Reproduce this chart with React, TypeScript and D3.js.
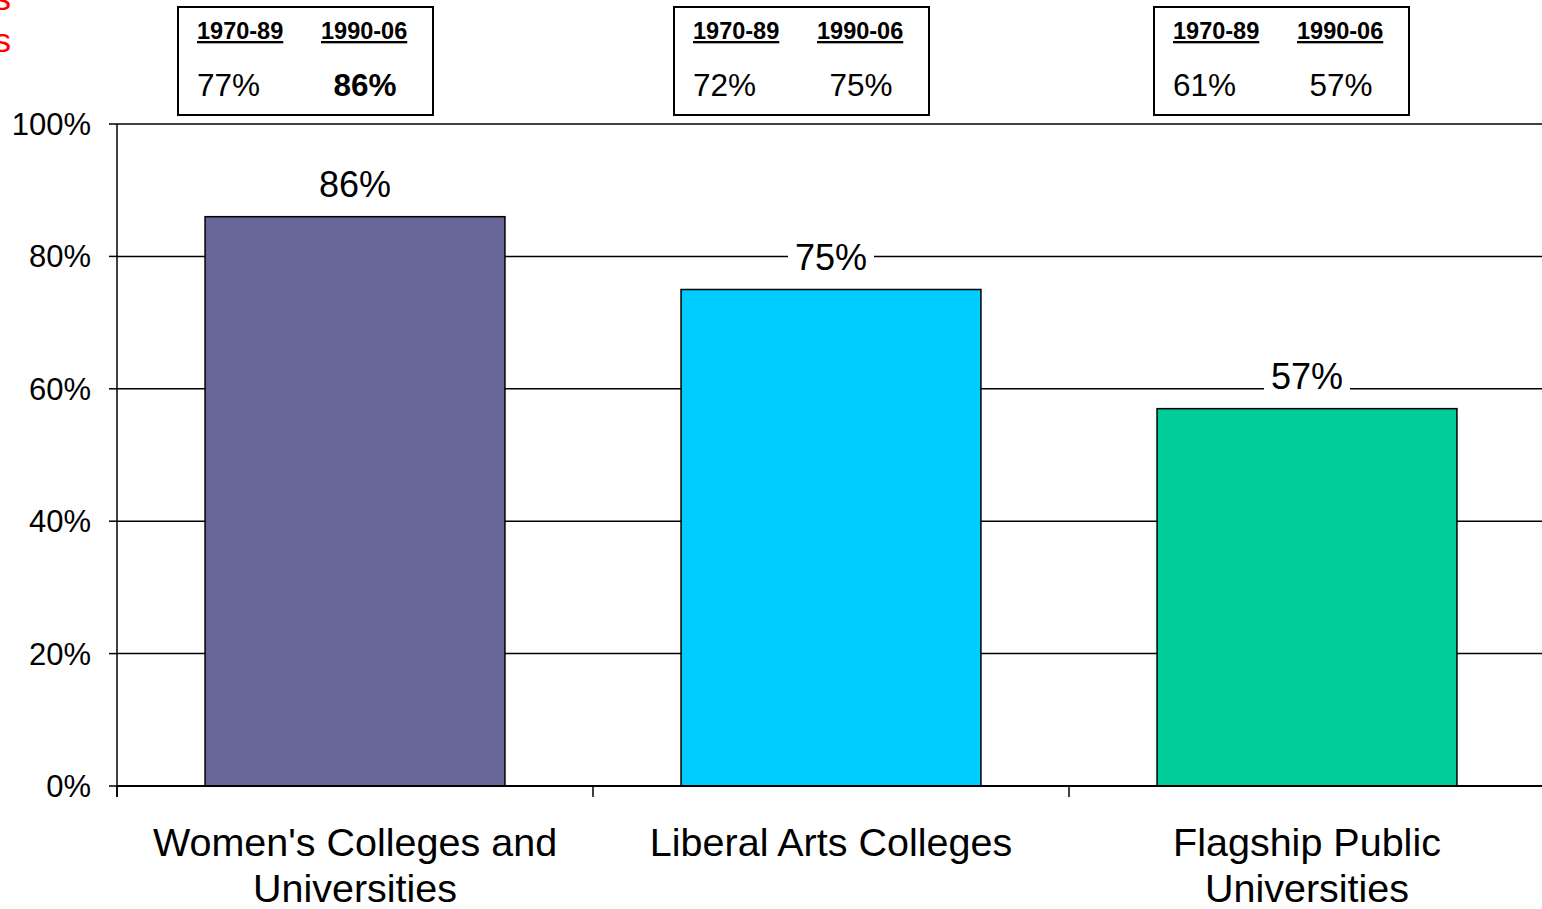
import React from 'react';
import * as d3 from 'd3';

// Chart data
const categories = ['Women\'s Colleges and Universities', 'Liberal Arts Colleges', 'Flagship Public Universities'];
const categoryLines = [['Women\'s Colleges and', 'Universities'], ['Liberal Arts Colleges'], ['Flagship Public', 'Universities']];
const recentRates = [0.86, 0.75, 0.57];
const earlierRates = [0.77, 0.72, 0.61];
const periods = ['1970-89', '1990-06'];
const boldRecent = [true, false, false];
const barColors = ['#666699', '#00CCFF', '#00CC99'];
const yTicks = [0, 0.2, 0.4, 0.6, 0.8, 1.0];
const titleLines = ['Graduation Rates', 'by Institution Types'];

const W = 1542;
const H = 909;
const PLOT = { left: 117, right: 1545, top: 124, bottom: 786 };
const BOX_SHIFT = [-177, -157, -153]; // box left edge relative to band centre
const FONT = '"Liberation Sans", Arial, Helvetica, sans-serif';

export default function App() {
  const x = d3.scaleBand<string>().domain(categories).range([PLOT.left, PLOT.right]).padding(0);
  const y = d3.scaleLinear().domain([0, 1]).range([PLOT.bottom, PLOT.top]);
  const barW = x.bandwidth() * 0.63;
  const pct = d3.format('.0%');

  return (
    <svg
      width={W}
      height={H}
      style={{ position: 'absolute', left: 0, top: 0, background: '#fff' }}
      fontFamily={FONT}
    >
      {/* cut-off red title */}
      {titleLines.map((t, i) => (
        <text key={t} x={11} y={10 + i * 42} textAnchor="end" fill="#FF0000" fontSize={34}>
          {t}
        </text>
      ))}

      {/* gridlines */}
      {yTicks.slice(1).map((t) => (
        <line key={t} x1={PLOT.left} x2={W} y1={y(t)} y2={y(t)} stroke="#000" strokeWidth={1.5} />
      ))}

      {/* y axis */}
      <line x1={PLOT.left} x2={PLOT.left} y1={PLOT.top} y2={PLOT.bottom + 11} stroke="#000" strokeWidth={1.5} />
      {yTicks.map((t) => (
        <g key={t}>
          <line x1={PLOT.left - 8} x2={PLOT.left} y1={y(t)} y2={y(t)} stroke="#000" strokeWidth={1.5} />
          <text x={91} y={y(t) + 11} textAnchor="end" fontSize={31} fill="#000">
            {pct(t)}
          </text>
        </g>
      ))}

      {/* x axis ticks */}
      {categories.map((c) => (
        <line
          key={c}
          x1={x(c)!}
          x2={x(c)!}
          y1={PLOT.bottom}
          y2={PLOT.bottom + 11}
          stroke="#000"
          strokeWidth={1.5}
        />
      ))}

      {/* bars */}
      {categories.map((c, i) => {
        const cx = x(c)! + x.bandwidth() / 2;
        return (
          <rect
            key={c}
            x={cx - barW / 2}
            y={y(recentRates[i])}
            width={barW}
            height={y(0) - y(recentRates[i])}
            fill={barColors[i]}
            stroke="#000"
            strokeWidth={1.5}
          />
        );
      })}

      {/* x axis line */}
      <line x1={PLOT.left} x2={W} y1={PLOT.bottom} y2={PLOT.bottom} stroke="#000" strokeWidth={2} />

      {/* value labels */}
      {categories.map((c, i) => {
        const cx = x(c)! + x.bandwidth() / 2;
        const by = y(recentRates[i]) - 20;
        return (
          <g key={c}>
            <rect x={cx - 43} y={by - 28} width={86} height={34} fill="#fff" />
            <text x={cx} y={by} textAnchor="middle" fontSize={36} fill="#000">
              {pct(recentRates[i])}
            </text>
          </g>
        );
      })}

      {/* category labels */}
      {categories.map((c, i) => {
        const cx = x(c)! + x.bandwidth() / 2;
        return (
          <text key={c} x={cx} textAnchor="middle" fontSize={39.5} fill="#000">
            {categoryLines[i].map((l, j) => (
              <tspan key={l} x={cx} y={856 + j * 46}>
                {l}
              </tspan>
            ))}
          </text>
        );
      })}

      {/* comparison boxes */}
      {categories.map((c, i) => {
        const cx = x(c)! + x.bandwidth() / 2;
        const bx = cx + BOX_SHIFT[i];
        return (
          <g key={c}>
            <rect x={bx} y={7} width={255} height={108} fill="#fff" stroke="#000" strokeWidth={2} />
            <text x={bx + 19} y={39} fontSize={23.5} fontWeight="bold" textDecoration="underline" fill="#000">
              {periods[0]}
            </text>
            <text x={bx + 143} y={39} fontSize={23.5} fontWeight="bold" textDecoration="underline" fill="#000">
              {periods[1]}
            </text>
            <text x={bx + 19} y={96} fontSize={31.5} fill="#000">
              {pct(earlierRates[i])}
            </text>
            <text
              x={bx + 187}
              y={96}
              fontSize={31.5}
              textAnchor="middle"
              fontWeight={boldRecent[i] ? 'bold' : 'normal'}
              fill="#000"
            >
              {pct(recentRates[i])}
            </text>
          </g>
        );
      })}
    </svg>
  );
}
